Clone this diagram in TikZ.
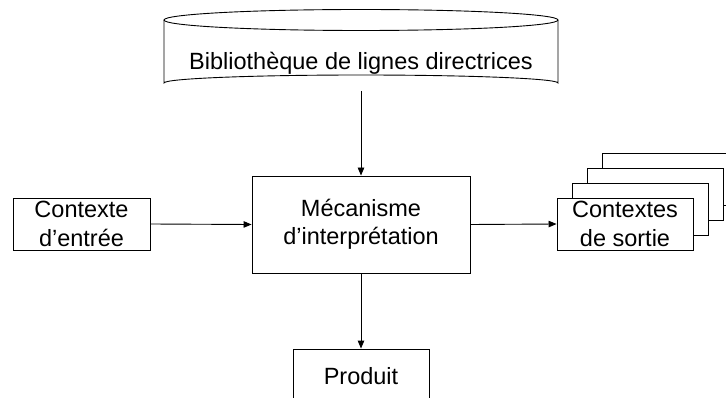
\documentclass[tikz,border=0pt]{standalone}
\usepackage{fontspec}
\setmainfont{Liberation Sans}
\usetikzlibrary{arrows.meta}
\begin{document}
\begin{tikzpicture}[x=1pt,y=-1pt,
  line width=0.9pt,
  box/.style={draw,fill=white,rectangle,inner sep=0pt,align=center,
    font=\fontsize{23.5}{28.5}\selectfont},
  lbl/.style={inner sep=0pt,align=center,font=\fontsize{23.5}{28.5}\selectfont},
  arr/.style={-{Triangle[length=8pt,width=6.5pt]}}]
\useasboundingbox (0,0) rectangle (726,398);
\clip (0,0) rectangle (726,398);
% cylinder
\draw (164,20) -- (164,83) arc[start angle=180,end angle=360,x radius=197,y radius=8] -- (558,20);
\draw (361,20) ellipse[x radius=197,y radius=10.5];
\node[lbl] (lib) at (361,63) {Bibliothèque de lignes directrices};
\coordinate (libbot) at (361,91);
% central box
\node[box,minimum width=218pt,minimum height=97pt] (mec) at (361,224.5) {Mécanisme\\d’interprétation};
% input
\node[box,minimum width=137pt,minimum height=52pt] (in) at (81.5,224) {Contexte\\d’entrée};
% output stack
\node[box,minimum width=136pt,minimum height=52pt] (out4) at (670,179) {};
\node[box,minimum width=136pt,minimum height=52pt] (out3) at (655,194) {};
\node[box,minimum width=136pt,minimum height=52pt] (out2) at (640,209) {};
\node[box,minimum width=136pt,minimum height=52pt] (out) at (625,224) {Contextes\\de sortie};
% product
\node[box,minimum width=136pt,minimum height=54pt] (prod) at (361,376) {Produit};
% connectors
\draw[arr] (libbot) -- (mec.north);
\draw[arr] (in.east) -- (mec.west);
\draw[arr] (mec.east) -- (out.west);
\draw[arr] (mec.south) -- (prod.north);
\end{tikzpicture}
\end{document}
